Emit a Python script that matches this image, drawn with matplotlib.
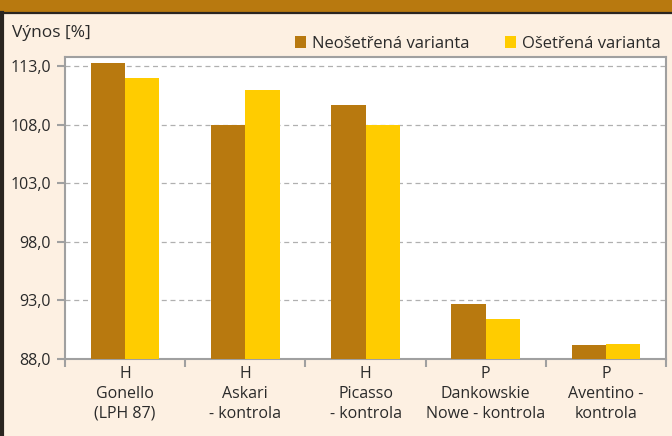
import numpy as np
import matplotlib.pyplot as plt
from matplotlib.patches import Rectangle
from matplotlib.lines import Line2D

plt.rcParams['font.family'] = ['Open Sans', 'DejaVu Sans']

categories = ['H\nGonello\n(LPH 87)', 'H\nAskari\n- kontrola', 'H\nPicasso\n- kontrola',
              'P\nDankowskie\nNowe - kontrola', 'P\nAventino -\nkontrola']
neosetrena = [113.3, 108.0, 109.7, 92.7, 89.2]
osetrena = [112.0, 111.0, 108.0, 91.4, 89.3]
yticks = [88.0, 93.0, 98.0, 103.0, 108.0, 113.0]

c_brown = '#b8790f'
c_yellow = '#ffcc00'
c_bg = '#fdf0e2'
c_grey = '#a0a0a0'
c_text = '#2a2a2a'

fig = plt.figure(figsize=(6.72, 4.36), dpi=100, facecolor=c_bg)

# header strip and frame
fig.patches.append(Rectangle((0, 1 - 12 / 436), 1, 12 / 436, transform=fig.transFigure,
                             facecolor=c_brown, edgecolor='none', zorder=0))
fig.lines.append(Line2D([0, 1], [1 - 13 / 436] * 2, transform=fig.transFigure, color='#2a2520', lw=1.6))
fig.lines.append(Line2D([2 / 672] * 2, [0, 1 - 13 / 436], transform=fig.transFigure, color='#2a2520', lw=3))

ax = fig.add_axes([65 / 672, 77 / 436, 601 / 672, 302 / 436])
ax.set_facecolor('white')

x = np.arange(len(categories))
w = 0.285
ax.bar(x - w / 2, neosetrena, w, color=c_brown, zorder=3, label='Neošetřená varianta')
ax.bar(x + w / 2, osetrena, w, color=c_yellow, zorder=3, label='Ošetřená varianta')

ax.set_xlim(-0.5, len(categories) - 0.5)
ax.set_ylim(88.0, 113.8)
ax.set_yticks(yticks)
ax.set_yticklabels([f'{v:.1f}'.replace('.', ',') for v in yticks], fontsize=11.5, color=c_text)
ax.yaxis.grid(True, linestyle=(0, (4, 3)), color='#b0b0b0', lw=0.9, zorder=0)

ax.set_xticks(np.arange(len(categories) + 1) - 0.5)
ax.set_xticklabels([])
ax.set_xticks(x, minor=True)
ax.set_xticklabels(categories, minor=True, fontsize=11.5, color=c_text, linespacing=1.32)
ax.tick_params(axis='x', which='minor', length=0, pad=5)
ax.tick_params(axis='y', which='major', pad=4)
ax.tick_params(axis='both', which='major', length=6, width=1.5, color=c_grey)

for s in ax.spines.values():
    s.set_color(c_grey)
    s.set_linewidth(1.5)

fig.text(12 / 672, 1 - 33 / 436, 'Výnos [%]', fontsize=12.5, color=c_text, va='center')

ax.legend(loc='lower right', bbox_to_anchor=(1.0, 1.0), ncol=2, frameon=False,
          fontsize=12, handlelength=0.7, handleheight=0.7, handletextpad=0.35,
          columnspacing=2.1, borderaxespad=0.1, borderpad=0.2, labelcolor=c_text)

fig.savefig('out.png', dpi=100, facecolor=c_bg)
